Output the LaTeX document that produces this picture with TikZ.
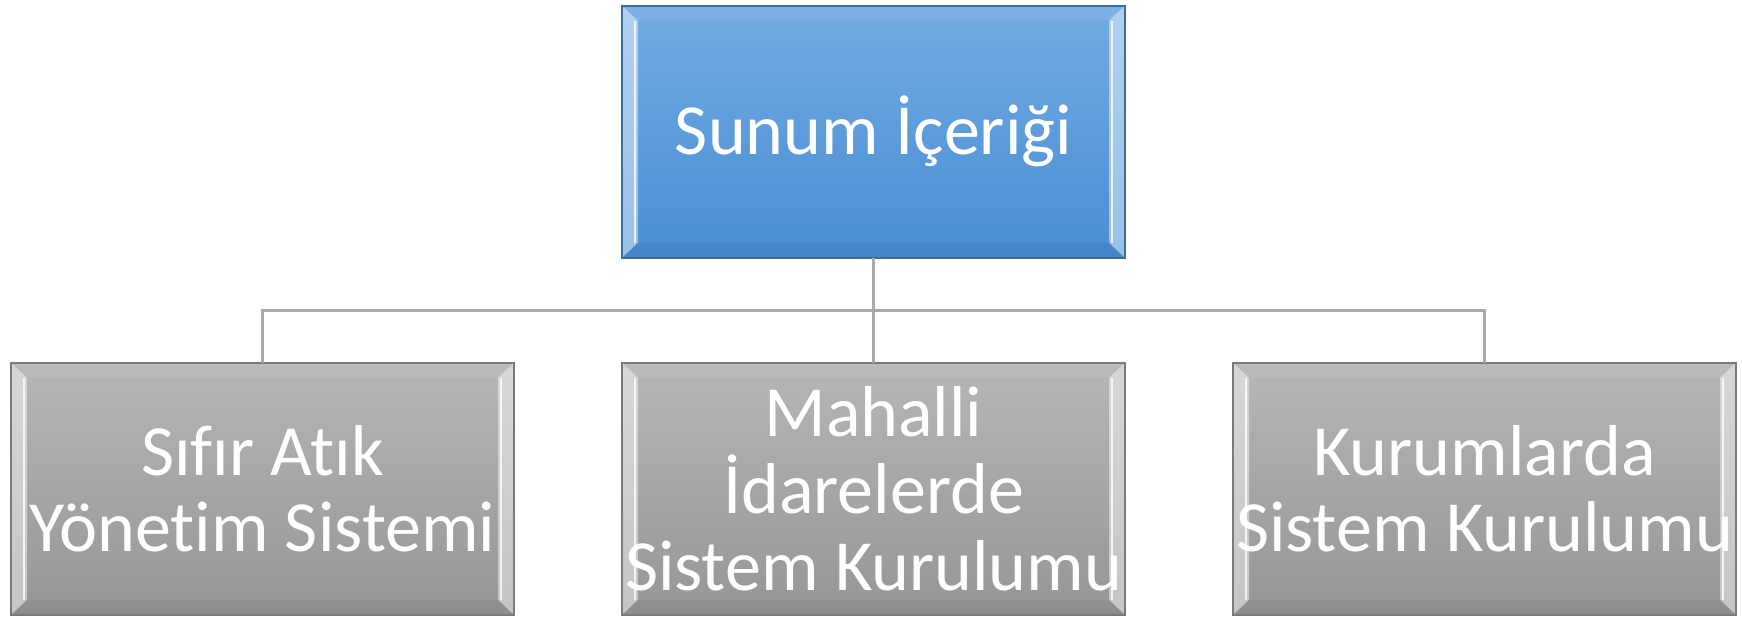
\documentclass[tikz,border=0pt]{standalone}
\usepackage{fontspec}
\setmainfont{Carlito}[Ligatures=NoCommon]
\usepackage{tikz}
\usetikzlibrary{positioning}

\definecolor{bluetop}{HTML}{73ABE4}
\definecolor{bluebot}{HTML}{488DD3}
\definecolor{blueline}{HTML}{3E6E9E}
\definecolor{greytop}{HTML}{B6B6B6}
\definecolor{greybot}{HTML}{969696}
\definecolor{greyline}{HTML}{7A7A7A}
\definecolor{linkgrey}{HTML}{A9A9A9}

\begin{document}
\begin{tikzpicture}[node distance=2.1cm and 2.16cm,
  bevel/.style={draw, line width=1pt, minimum width=10.06cm, minimum height=5.04cm,
    inner sep=0pt, outer sep=0pt, align=center, text=white,
    font=\fontsize{41}{43.6}\selectfont,
    path picture={
      \coordinate (pnw) at (path picture bounding box.north west);
      \coordinate (pne) at (path picture bounding box.north east);
      \coordinate (psw) at (path picture bounding box.south west);
      \coordinate (pse) at (path picture bounding box.south east);
      \fill[white,opacity=.08] (pnw) -- (pne) -- ([xshift=-.32cm,yshift=-.3cm]pne) -- ([xshift=.32cm,yshift=-.3cm]pnw) -- cycle;
      \fill[black,opacity=.05] (psw) -- (pse) -- ([xshift=-.32cm,yshift=.3cm]pse) -- ([xshift=.32cm,yshift=.3cm]psw) -- cycle;
      \fill[white,opacity=.45] (pnw) -- (psw) -- ([xshift=.32cm,yshift=.3cm]psw) -- ([xshift=.32cm,yshift=-.3cm]pnw) -- cycle;
      \fill[white,opacity=.45] (pne) -- (pse) -- ([xshift=-.32cm,yshift=.3cm]pse) -- ([xshift=-.32cm,yshift=-.3cm]pne) -- cycle;
      \draw[white,opacity=.8,line width=1.5pt] ([xshift=.26cm,yshift=.3cm]psw) -- ([xshift=.26cm,yshift=-.3cm]pnw)
        ([xshift=-.26cm,yshift=.3cm]pse) -- ([xshift=-.26cm,yshift=-.3cm]pne);
    }},
  topbox/.style={bevel, draw=blueline, top color=bluetop, bottom color=bluebot},
  subbox/.style={bevel, draw=greyline, top color=greytop, bottom color=greybot},
  link/.style={draw=linkgrey, line width=1.6pt}]
  \useasboundingbox (0,0) rectangle (34.84,-12.36);

  \node[topbox] (top) at (17.47,-2.635) {Sunum İçeriği};
  \node[subbox] (mid) [below=of top] {Mahalli\\İdarelerde\\Sistem Kurulumu};
  \node[subbox] (left) [left=of mid] {Sıfır Atık\\Yönetim Sistemi};
  \node[subbox] (right) [right=of mid] {Kurumlarda\\Sistem Kurulumu};

  \path (top.south) -- (mid.north) coordinate[pos=.5] (bus);
  \draw[link] (top.south) -- (mid.north);
  \draw[link] (left.north) |- (bus) -| (right.north);
\end{tikzpicture}
\end{document}
